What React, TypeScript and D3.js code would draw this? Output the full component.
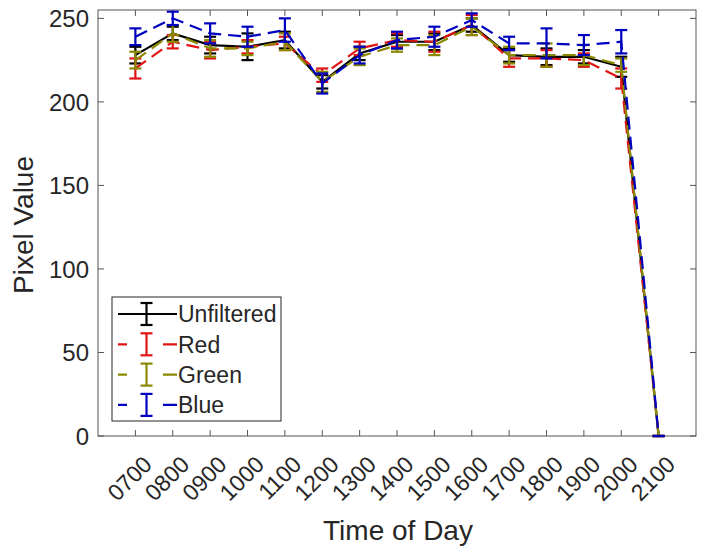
import React from "react";
import * as d3 from "d3";

// Hourly sample times (x categories)
const times = ["0700", "0800", "0900", "1000", "1100", "1200", "1300", "1400", "1500", "1600", "1700", "1800", "1900", "2000", "2100"];

// Mean pixel value per hour, and its +/- error, for each channel
const unfiltered = [228, 241, 234, 233, 237, 212, 229, 236, 236, 246, 228, 227, 227, 221, 0];
const unfilteredErr = [5, 4, 5, 8, 5, 4, 4, 4, 5, 4, 4, 5, 4, 6, 0];
const red = [220, 236, 231, 233, 235, 216, 232, 237, 236, 246, 226, 226, 225, 214, 0];
const redErr = [6, 4, 5, 4, 4, 4, 4, 4, 6, 6, 5, 5, 4, 6, 0];
const green = [225, 241, 232, 232, 236, 212, 227, 234, 234, 245, 228, 228, 228, 222, 0];
const greenErr = [5, 5, 5, 4, 5, 6, 5, 4, 6, 5, 5, 7, 6, 4, 0];
const blue = [239, 250, 241, 239, 243, 211, 228, 237, 239, 249, 235, 235, 234, 236, 0];
const blueErr = [5, 4, 6, 6, 7, 6, 5, 5, 6, 4, 4, 9, 6, 7, 0];

const yTicks = [0, 50, 100, 150, 200, 250];

const seriesNames = ["Unfiltered", "Red", "Green", "Blue"];

const W = 702;
const H = 550;
const M = { left: 98, right: 696, top: 10, bottom: 436 };
const FONT = "'Liberation Sans', Arial, Helvetica, sans-serif";
const TEXT = "#262626";
const AXIS = "#555";

export default function App() {
  const x = d3.scaleLinear().domain([0, times.length + 1]).range([M.left, M.right]);
  const y = d3.scaleLinear().domain([0, 255]).range([M.bottom, M.top]);

  const series = [
    { name: seriesNames[0], vals: unfiltered, err: unfilteredErr, color: "#000000", dash: null as string | null },
    { name: seriesNames[1], vals: red, err: redErr, color: "#e01414", dash: "13,7" },
    { name: seriesNames[2], vals: green, err: greenErr, color: "#8a8a00", dash: "13,7" },
    { name: seriesNames[3], vals: blue, err: blueErr, color: "#0000c0", dash: "13,7" },
  ];

  const line = d3
    .line<number>()
    .x((_, i) => x(i + 1))
    .y((v) => y(v));

  const cap = 6;
  const tickLen = 6;

  return (
    <svg
      width={W}
      height={H}
      style={{ position: "fixed", left: 0, top: 0, background: "#fff" }}
      fontFamily={FONT}
    >
      <rect x={0} y={0} width={W} height={H} fill="#fff" />

      {/* axis box */}
      <rect x={M.left} y={M.top} width={M.right - M.left} height={M.bottom - M.top} fill="none" stroke={AXIS} strokeWidth={1} />

      {/* y ticks, both sides */}
      {yTicks.map((t) => (
        <g key={"y" + t}>
          <line x1={M.left} x2={M.left + tickLen} y1={y(t)} y2={y(t)} stroke={AXIS} />
          <line x1={M.right} x2={M.right - tickLen} y1={y(t)} y2={y(t)} stroke={AXIS} />
          <text x={89} y={y(t)} dy="0.36em" textAnchor="end" fontSize={24} fill={TEXT}>
            {t}
          </text>
        </g>
      ))}

      {/* x ticks, both sides */}
      {times.map((t, i) => (
        <g key={"x" + t}>
          <line x1={x(i + 1)} x2={x(i + 1)} y1={M.bottom} y2={M.bottom - tickLen} stroke={AXIS} />
          <line x1={x(i + 1)} x2={x(i + 1)} y1={M.top} y2={M.top + tickLen} stroke={AXIS} />
          <text
            transform={`translate(${x(i + 1) + 18},466) rotate(-45)`}
            textAnchor="end"
            fontSize={23}
            fill={TEXT}
          >
            {t}
          </text>
        </g>
      ))}

      {/* series lines and error bars */}
      {series.map((s) => (
        <g key={s.name}>
          <path d={line(s.vals) || ""} fill="none" stroke={s.color} strokeWidth={2.2} strokeDasharray={s.dash || undefined} />
          {s.vals.map((v, i) => {
            const cx = x(i + 1);
            const y1 = y(v + s.err[i]);
            const y2 = y(v - s.err[i]);
            return (
              <g key={i} stroke={s.color} strokeWidth={2.2}>
                <line x1={cx} x2={cx} y1={y1} y2={y2} />
                <line x1={cx - cap} x2={cx + cap} y1={y1} y2={y1} />
                <line x1={cx - cap} x2={cx + cap} y1={y2} y2={y2} />
              </g>
            );
          })}
        </g>
      ))}

      {/* axis labels */}
      <text x={398} y={540} textAnchor="middle" fontSize={28} fill={TEXT}>
        Time of Day
      </text>
      <text transform={`translate(33,225) rotate(-90)`} textAnchor="middle" fontSize={28} fill={TEXT}>
        Pixel Value
      </text>

      {/* legend */}
      <g>
        <rect x={112} y={297} width={169} height={124} fill="#fff" stroke={TEXT} strokeWidth={1} />
        {series.map((s, k) => {
          const ly = 314 + k * 30.3;
          return (
            <g key={"lg" + s.name}>
              <line x1={118} x2={177} y1={ly} y2={ly} stroke={s.color} strokeWidth={2.2} strokeDasharray={s.dash ? "9,36,14" : undefined} />
              <g stroke={s.color} strokeWidth={2.2}>
                <line x1={146.5} x2={146.5} y1={ly - 11} y2={ly + 11} />
                <line x1={140.5} x2={152.5} y1={ly - 11} y2={ly - 11} />
                <line x1={140.5} x2={152.5} y1={ly + 11} y2={ly + 11} />
              </g>
              <text x={178} y={ly} dy="0.36em" fontSize={23} fill={TEXT}>
                {s.name}
              </text>
            </g>
          );
        })}
      </g>
    </svg>
  );
}
